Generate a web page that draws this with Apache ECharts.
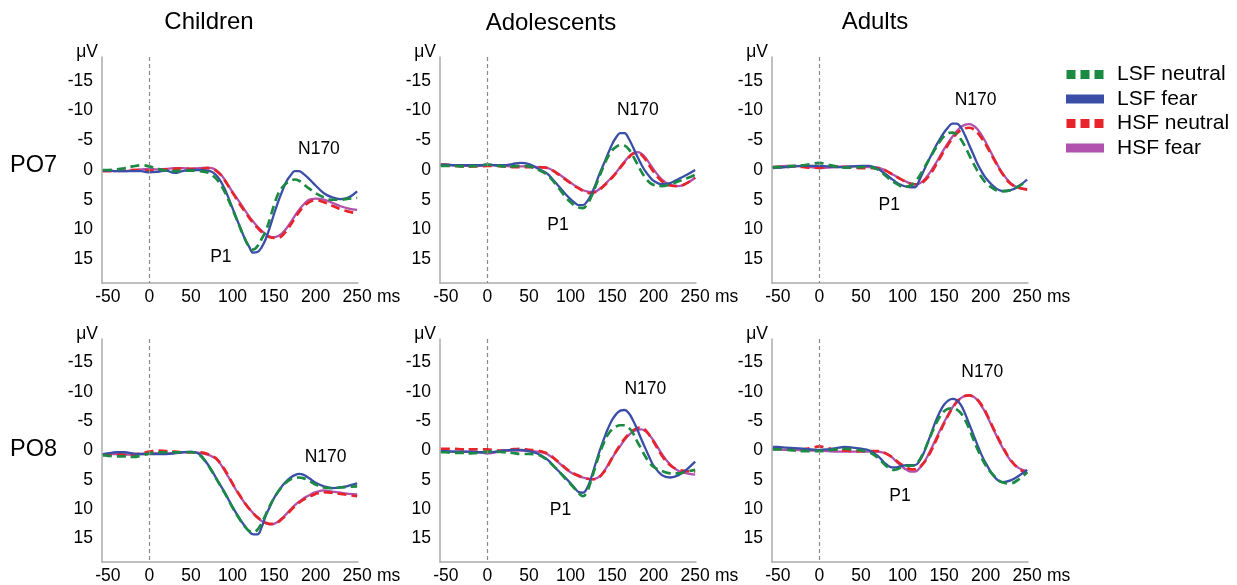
<!DOCTYPE html>
<html>
<head>
<meta charset="utf-8">
<script src="https://cdn.jsdelivr.net/npm/echarts@6/dist/echarts.min.js"></script>
<style>
html,body{margin:0;padding:0;background:#fff;}
#chart{width:1237px;height:585px;}
</style>
</head>
<body>
<div id="chart"></div>
<script>
// ---------- data ----------
const times = [-56, -50, -40, -30, -20, -10, 0, 10, 20, 30, 40, 50, 60,
  70, 75, 80, 85, 90, 95, 100, 105, 110, 115, 120, 125, 130, 135, 140, 145, 150, 155, 160, 165, 170, 175, 180, 185, 190, 195, 200,
  210, 220, 230, 240, 250];
const xTicks = [-50, 0, 50, 100, 150, 200, 250];
const yTicks = [-15, -10, -5, 0, 5, 10, 15];
const groups = ['Children', 'Adolescents', 'Adults'];
const sites = ['PO7', 'PO8'];
const conditions = ['LSF neutral', 'LSF fear', 'HSF neutral', 'HSF fear'];

// Children PO7
const childrenPO7_LSFneutral = [0, 0, -0.1, -0.3, -0.6, -0.8, -0.6, -0.2, 0.1, 0.2, 0.1, 0.1, 0.2,
  0.4, 0.8, 1.4, 2.3, 3.5, 5.0, 6.6, 8.3, 10.0, 11.6, 12.9, 13.4, 12.8, 11.6, 10.3, 8.2, 5.9, 4.0, 2.9, 2.2, 1.8, 1.6, 1.8, 2.3, 2.9, 3.4, 3.9,
  4.6, 5.0, 5.0, 4.8, 4.7];
const childrenPO7_LSFfear = [0.1, 0.1, 0.2, 0.2, 0.2, 0.2, 0.4, 0.3, 0.1, 0.5, 0.2, 0.0, 0.0,
  0.1, 0.3, 0.8, 1.7, 3.0, 4.6, 6.4, 8.2, 9.9, 11.6, 12.9, 13.9, 13.8, 13.0, 11.6, 9.6, 7.4, 5.3, 3.5, 1.9, 0.9, 0.2, 0.2, 0.6, 1.2, 1.9, 2.6,
  3.9, 4.6, 4.9, 4.6, 3.6];
const childrenPO7_HSFneutral = [0.2, 0.2, 0.1, 0.1, 0.0, 0.0, 0.1, 0.0, -0.1, -0.2, -0.3, -0.2, -0.2,
  -0.3, -0.2, 0.1, 0.7, 1.6, 2.7, 3.8, 4.9, 6.0, 7.0, 8.0, 8.9, 9.7, 10.4, 10.9, 11.3, 11.4, 11.4, 11.0, 10.2, 9.2, 8.1, 7.1, 6.2, 5.6, 5.2, 5.1,
  5.4, 6.0, 6.6, 7.0, 7.3];
const childrenPO7_HSFfear = [0.1, 0.1, 0.2, 0.2, 0.0, -0.1, -0.2, -0.1, -0.2, -0.3, -0.3, -0.2, -0.3,
  -0.4, -0.3, 0.0, 0.6, 1.5, 2.6, 3.7, 4.7, 5.7, 6.8, 7.8, 8.7, 9.5, 10.2, 10.8, 11.2, 11.3, 11.1, 10.6, 9.8, 8.8, 7.7, 6.7, 5.9, 5.2, 4.9, 4.8,
  5.0, 5.5, 6.1, 6.5, 6.7];

// Adolescents PO7
const adolescentsPO7_LSFneutral = [-0.7, -0.7, -0.7, -0.6, -0.6, -0.7, -0.9, -0.8, -0.6, -0.6, -0.7, -0.6, -0.1,
  0.6, 1.2, 2.0, 2.9, 3.8, 4.7, 5.4, 6.0, 6.3, 6.4, 5.8, 4.5, 2.8, 1.0, -0.7, -2.2, -3.3, -3.9, -4.2, -4.1, -3.5, -2.4, -1.1, 0.2, 1.3, 2.1, 2.5,
  2.7, 2.4, 1.9, 1.4, 0.8];
const adolescentsPO7_LSFfear = [-0.9, -0.9, -0.8, -0.8, -0.8, -0.8, -0.9, -0.8, -0.8, -1.0, -1.2, -1.0, -0.3,
  0.4, 1.0, 1.8, 2.6, 3.4, 4.2, 4.9, 5.5, 5.9, 5.9, 5.3, 4.1, 2.5, 0.6, -1.0, -2.7, -4.3, -5.5, -6.2, -6.2, -5.3, -3.9, -2.4, -1.0, 0.2, 1.1, 1.8,
  2.4, 2.2, 1.5, 0.8, 0.0];
const adolescentsPO7_HSFneutral = [-0.9, -0.9, -0.7, -0.6, -0.6, -0.6, -0.7, -0.7, -0.6, -0.5, -0.5, -0.5, -0.5,
  -0.4, -0.2, 0.2, 0.7, 1.2, 1.7, 2.2, 2.7, 3.1, 3.5, 3.8, 3.9, 3.7, 3.3, 2.7, 2.0, 1.3, 0.5, -0.4, -1.3, -2.1, -2.7, -2.9, -2.6, -1.8, -0.7, 0.3,
  1.9, 2.6, 2.7, 2.2, 1.3];
const adolescentsPO7_HSFfear = [-0.7, -0.8, -0.8, -0.7, -0.7, -0.7, -0.8, -0.8, -0.7, -0.6, -0.6, -0.6, -0.5,
  -0.4, -0.2, 0.2, 0.6, 1.1, 1.6, 2.1, 2.6, 3.0, 3.4, 3.6, 3.7, 3.6, 3.2, 2.6, 1.9, 1.2, 0.4, -0.5, -1.4, -2.2, -2.8, -3.0, -2.8, -2.1, -1.1, -0.1,
  1.6, 2.5, 2.7, 2.2, 1.3];

// Adults PO7
const adultsPO7_LSFneutral = [-0.5, -0.5, -0.6, -0.7, -0.8, -1.0, -1.2, -0.9, -0.6, -0.4, -0.4, -0.5, -0.5,
  -0.1, 0.4, 1.0, 1.6, 2.1, 2.5, 2.8, 2.8, 2.6, 2.0, 1.1, -0.1, -1.3, -2.5, -3.7, -4.8, -5.7, -6.2, -6.3, -6.0, -5.2, -4.0, -2.6, -1.2, 0.1, 1.2, 2.1,
  3.2, 3.6, 3.4, 2.7, 1.8];
const adultsPO7_LSFfear = [-0.3, -0.4, -0.5, -0.6, -0.7, -0.7, -0.7, -0.6, -0.5, -0.5, -0.6, -0.7, -0.7,
  -0.2, 0.2, 0.7, 1.3, 1.8, 2.3, 2.6, 2.8, 2.9, 2.9, 1.8, 0.3, -1.2, -2.6, -4.0, -5.2, -6.3, -7.2, -7.8, -7.8, -7.2, -5.9, -4.3, -2.7, -1.1, 0.2, 1.3,
  2.8, 3.5, 3.4, 2.7, 1.6];
const adultsPO7_HSFneutral = [-0.5, -0.5, -0.5, -0.6, -0.5, -0.4, -0.4, -0.5, -0.6, -0.5, -0.4, -0.3, -0.3,
  -0.3, -0.2, 0.1, 0.5, 0.9, 1.3, 1.7, 2.0, 2.3, 2.4, 2.4, 2.0, 1.3, 0.4, -0.8, -2.0, -3.2, -4.3, -5.3, -6.1, -6.7, -7.0, -7.1, -6.9, -6.3, -5.4, -4.3,
  -1.8, 0.6, 2.3, 3.0, 3.3];
const adultsPO7_HSFfear = [-0.4, -0.6, -0.7, -0.7, -0.6, -0.5, -0.3, -0.4, -0.5, -0.6, -0.6, -0.6, -0.5,
  -0.4, -0.2, 0.1, 0.5, 0.9, 1.3, 1.7, 2.0, 2.3, 2.4, 2.3, 1.8, 1.0, 0.0, -1.1, -2.3, -3.5, -4.6, -5.6, -6.5, -7.2, -7.6, -7.7, -7.5, -6.9, -5.9, -4.7,
  -2.0, 0.5, 2.2, 3.0, 3.2];

// Children PO8
const childrenPO8_LSFneutral = [0.8, 0.9, 1.0, 1.0, 1.1, 0.9, 0.5, 0.3, 0.3, 0.3, 0.3, 0.3, 0.7,
  2.4, 3.5, 4.7, 5.9, 7.1, 8.4, 9.7, 10.9, 12.0, 13.0, 13.7, 13.9, 13.5, 12.4, 10.9, 9.4, 8.1, 7.0, 6.1, 5.4, 4.9, 4.7, 4.6, 4.7, 5.0, 5.4, 5.8,
  6.3, 6.4, 6.3, 6.2, 6.1];
const childrenPO8_LSFfear = [0.6, 0.5, 0.3, 0.3, 0.5, 0.6, 0.6, 0.6, 0.6, 0.5, 0.3, 0.2, 0.6,
  2.3, 3.4, 4.6, 5.8, 7.0, 8.3, 9.6, 10.8, 11.9, 12.9, 13.8, 14.3, 14.3, 13.1, 11.1, 9.6, 8.1, 7.0, 6.0, 5.2, 4.6, 4.2, 4.0, 4.1, 4.5, 5.0, 5.5,
  6.1, 6.4, 6.3, 6.0, 5.6];
const childrenPO8_HSFneutral = [0.8, 0.7, 0.6, 0.7, 0.7, 0.5, 0.2, 0.0, 0.1, 0.2, 0.3, 0.3, 0.3,
  0.6, 0.9, 1.3, 2.1, 3.1, 4.3, 5.6, 6.8, 7.9, 9.0, 9.9, 10.7, 11.4, 11.9, 12.3, 12.5, 12.5, 12.2, 11.6, 11.0, 10.2, 9.5, 8.9, 8.4, 8.0, 7.7, 7.4,
  7.1, 7.2, 7.4, 7.6, 7.8];
const childrenPO8_HSFfear = [0.7, 0.6, 0.6, 0.7, 0.7, 0.6, 0.5, 0.5, 0.5, 0.4, 0.3, 0.3, 0.4,
  0.7, 1.0, 1.4, 2.2, 3.3, 4.5, 5.7, 6.9, 8.0, 9.0, 9.9, 10.7, 11.4, 12.0, 12.4, 12.6, 12.5, 12.1, 11.5, 10.8, 10.0, 9.3, 8.7, 8.2, 7.8, 7.4, 7.1,
  6.8, 7.0, 7.2, 7.4, 7.5];

// Adolescents PO8
const adolescentsPO8_LSFneutral = [0.3, 0.3, 0.4, 0.4, 0.5, 0.4, 0.2, 0.2, 0.3, 0.4, 0.6, 0.6, 0.7,
  1.4, 2.0, 2.7, 3.4, 4.2, 5.0, 5.7, 6.5, 7.3, 7.8, 7.0, 5.0, 2.7, 0.5, -1.3, -2.7, -3.6, -4.1, -4.3, -4.3, -3.9, -3.0, -1.6, -0.3, 1.0, 2.1, 2.8,
  3.5, 3.9, 3.9, 3.6, 3.3];
const adolescentsPO8_LSFfear = [0.1, 0.1, 0.2, 0.2, 0.2, 0.3, 0.3, 0.2, 0.0, -0.1, -0.1, 0.1, 0.5,
  1.3, 1.9, 2.7, 3.4, 4.1, 4.8, 5.6, 6.4, 7.1, 7.2, 6.4, 4.6, 2.3, 0.1, -1.9, -3.7, -5.2, -6.2, -6.8, -6.9, -6.4, -5.2, -3.7, -2.0, -0.4, 1.2, 2.6,
  4.2, 4.6, 4.2, 3.2, 1.9];
const adolescentsPO8_HSFneutral = [-0.3, -0.3, -0.3, -0.2, -0.2, -0.2, -0.2, 0.0, 0.0, -0.2, -0.3, -0.1, 0.0,
  0.4, 0.8, 1.3, 1.9, 2.5, 3.1, 3.6, 4.0, 4.3, 4.6, 4.8, 4.9, 4.9, 4.5, 3.7, 2.6, 1.3, 0.1, -1.0, -2.0, -2.8, -3.4, -3.8, -3.9, -3.5, -2.6, -1.5,
  0.9, 2.5, 3.3, 3.5, 3.6];
const adolescentsPO8_HSFfear = [0.2, 0.2, 0.2, 0.2, 0.3, 0.3, 0.5, 0.3, 0.1, 0.0, 0.0, 0.1, 0.2,
  0.5, 0.9, 1.4, 2.0, 2.6, 3.2, 3.7, 4.1, 4.4, 4.6, 4.8, 4.9, 4.8, 4.4, 3.6, 2.5, 1.3, 0.2, -0.8, -1.8, -2.6, -3.2, -3.5, -3.6, -3.3, -2.6, -1.7,
  0.6, 2.4, 3.5, 3.9, 4.1];

// Adults PO8
const adultsPO8_LSFneutral = [-0.2, -0.2, -0.1, 0.0, 0.1, 0.1, 0.1, 0.0, -0.2, -0.3, -0.2, 0.0, 0.3,
  1.2, 1.9, 2.6, 3.1, 3.3, 3.1, 2.8, 2.6, 2.6, 2.5, 1.7, 0.4, -1.2, -2.9, -4.5, -5.8, -6.7, -7.1, -7.2, -7.0, -6.4, -5.3, -3.8, -2.0, -0.3, 1.2, 2.5,
  4.3, 5.4, 5.6, 4.9, 3.7];
const adultsPO8_LSFfear = [-0.6, -0.6, -0.5, -0.4, -0.3, -0.2, -0.1, -0.2, -0.4, -0.6, -0.5, -0.3, 0.0,
  0.9, 1.6, 2.3, 2.8, 2.9, 2.8, 2.6, 2.5, 2.5, 2.5, 1.9, 0.6, -1.2, -3.1, -5.0, -6.6, -7.8, -8.5, -8.8, -8.6, -7.8, -6.4, -4.6, -2.8, -1.0, 0.7, 2.1,
  4.4, 5.4, 5.1, 4.3, 3.3];
const adultsPO8_HSFneutral = [-0.3, -0.3, -0.2, -0.1, -0.2, -0.4, -0.7, -0.4, -0.1, 0.0, 0.1, 0.1, 0.1,
  0.1, 0.2, 0.5, 0.9, 1.4, 2.0, 2.5, 2.9, 3.2, 3.2, 2.9, 2.2, 1.2, -0.1, -1.6, -3.1, -4.6, -6.0, -7.2, -8.2, -8.9, -9.3, -9.4, -9.2, -8.7, -7.8, -6.6,
  -3.6, -0.8, 1.6, 3.1, 3.9];
const adultsPO8_HSFfear = [-0.2, -0.2, -0.1, -0.1, 0.0, 0.0, 0.0, 0.1, 0.2, 0.2, 0.2, 0.2, 0.2,
  0.2, 0.3, 0.5, 0.9, 1.5, 2.2, 2.8, 3.3, 3.6, 3.6, 3.1, 2.2, 1.0, -0.4, -1.9, -3.4, -4.8, -6.1, -7.3, -8.3, -8.9, -9.3, -9.4, -9.2, -8.6, -7.6, -6.4,
  -3.4, -0.6, 1.7, 3.0, 3.5];

// peak annotations: [label, ms, µV]
const annChildrenPO7 = [['N170', 204, -3.5], ['P1', 86, 14.6]];
const annAdolescentsPO7 = [['N170', 181, -10.1], ['P1', 85, 9.2]];
const annAdultsPO7 = [['N170', 188, -11.8], ['P1', 84, 5.9]];
const annChildrenPO8 = [['N170', 212, 1.2]];
const annAdolescentsPO8 = [['N170', 190, -10.5], ['P1', 88, 10.1]];
const annAdultsPO8 = [['N170', 196, -13.3], ['P1', 97, 7.8]];

// ---------- assembly ----------
const panelSeries = [
  [childrenPO7_LSFneutral, childrenPO7_LSFfear, childrenPO7_HSFneutral, childrenPO7_HSFfear],
  [adolescentsPO7_LSFneutral, adolescentsPO7_LSFfear, adolescentsPO7_HSFneutral, adolescentsPO7_HSFfear],
  [adultsPO7_LSFneutral, adultsPO7_LSFfear, adultsPO7_HSFneutral, adultsPO7_HSFfear],
  [childrenPO8_LSFneutral, childrenPO8_LSFfear, childrenPO8_HSFneutral, childrenPO8_HSFfear],
  [adolescentsPO8_LSFneutral, adolescentsPO8_LSFfear, adolescentsPO8_HSFneutral, adolescentsPO8_HSFfear],
  [adultsPO8_LSFneutral, adultsPO8_LSFfear, adultsPO8_HSFneutral, adultsPO8_HSFfear]
];
const panelAnn = [annChildrenPO7, annAdolescentsPO7, annAdultsPO7, annChildrenPO8, annAdolescentsPO8, annAdultsPO8];

const FONT = '"Liberation Sans", Arial, Helvetica, sans-serif';
const TXT = '#000';
const AXIS = '#ababab';
const colors = ['#1b8a43', '#3a4ea8', '#e8242a', '#b052ae'];
const dashed = [true, false, true, false];
const drawOrder = [3, 2, 1, 0];
const lefts = [102, 440, 772];
const tops = [57, 339];

const grids = [], xAxes = [], yAxes = [], series = [];
for (let p = 0; p < 6; p++) {
  const r = Math.floor(p / 3), c = p % 3;
  grids.push({left: lefts[c], top: tops[r], width: 256, height: 226});
  xAxes.push({
    gridIndex: p, type: 'value', min: -57, max: 251,
    axisLine: {show: true, onZero: false, lineStyle: {color: AXIS, width: 1.5}},
    axisTick: {show: false}, splitLine: {show: false},
    axisLabel: {customValues: xTicks, fontSize: 17.5, color: TXT, margin: 5, fontFamily: FONT},
    name: 'ms', nameLocation: 'end', nameGap: 19,
    nameTextStyle: {fontSize: 17.5, color: TXT, fontFamily: FONT, verticalAlign: 'top', padding: [5, 0, 0, 0]}
  });
  yAxes.push({
    gridIndex: p, type: 'value', inverse: true, min: -19, max: 19,
    axisLine: {show: true, onZero: false, lineStyle: {color: AXIS, width: 1.5}},
    axisTick: {show: false}, splitLine: {show: false},
    axisLabel: {customValues: yTicks, fontSize: 17.5, color: TXT, margin: 9, fontFamily: FONT},
    name: 'μV', nameLocation: 'start', nameGap: 5,
    nameTextStyle: {fontSize: 17.5, color: TXT, fontFamily: FONT, align: 'right', verticalAlign: 'middle', padding: [0, 4, 0, 0]}
  });
  drawOrder.forEach(k => {
    const vals = panelSeries[p][k];
    series.push({
      type: 'line', name: conditions[k], xAxisIndex: p, yAxisIndex: p,
      data: times.map((t, i) => [t, vals[i]]),
      smooth: 0.4, showSymbol: false, symbol: 'none', silent: true,
      color: colors[k],
      itemStyle: {color: colors[k]},
      lineStyle: {color: colors[k], width: dashed[k] ? 2.7 : 2.3, type: dashed[k] ? [9, 5] : 'solid'},
      z: 3
    });
  });
  series.push({
    type: 'scatter', name: 'annotation' + p, xAxisIndex: p, yAxisIndex: p,
    data: panelAnn[p].map(a => ({name: a[0], value: [a[1], a[2]]})),
    symbolSize: 1, itemStyle: {color: '#fff', opacity: 0}, silent: true,
    label: {show: true, position: 'inside', formatter: '{b}', fontSize: 17.5, color: TXT, opacity: 1,
            textBorderWidth: 0, fontFamily: FONT},
    markLine: {
      silent: true, symbol: ['none', 'none'], label: {show: false},
      lineStyle: {color: '#8a8a8a', type: [4, 3], width: 1.2, opacity: 1},
      data: [{xAxis: 0}]
    },
    z: 2
  });
}

const dashIcon = 'path://M0,0H9V9H0Z M14,0H23V9H14Z M28,0H37V9H28Z';

const titleTexts = [
  {text: groups[0], x: 209, y: 22, align: 'center', size: 24},
  {text: groups[1], x: 551, y: 23, align: 'center', size: 24},
  {text: groups[2], x: 875, y: 22, align: 'center', size: 24},
  {text: sites[0], x: 10, y: 166, align: 'left', size: 23.5},
  {text: sites[1], x: 10, y: 450, align: 'left', size: 23.5}
];

const option = {
  animation: false,
  backgroundColor: '#fff',
  grid: grids, xAxis: xAxes, yAxis: yAxes, series: series,
  legend: {
    orient: 'vertical', left: 1066, top: 64, padding: 0,
    itemWidth: 38, itemHeight: 9, itemGap: 3.5, selectedMode: false,
    itemStyle: {borderWidth: 0},
    data: [
      {name: conditions[0], icon: dashIcon},
      {name: conditions[1], icon: 'rect'},
      {name: conditions[2], icon: dashIcon},
      {name: conditions[3], icon: 'rect'}
    ],
    textStyle: {fontSize: 21, color: TXT, fontFamily: FONT, lineHeight: 21, padding: [0, 0, 0, 8]}
  },
  graphic: titleTexts.map(t => ({
    type: 'text', x: t.x, y: t.y, silent: true,
    style: {text: t.text, fontSize: t.size, fontFamily: FONT, fill: TXT, align: t.align, verticalAlign: 'middle'}
  }))
};

const chart = echarts.init(document.getElementById('chart'), null, {renderer: 'canvas'});
chart.setOption(option);
</script>
</body>
</html>
